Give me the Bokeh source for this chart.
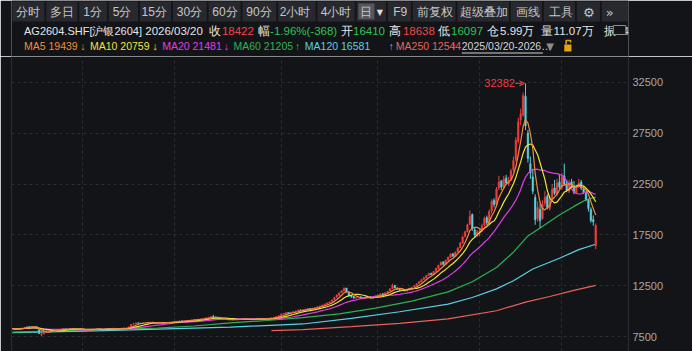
from bokeh.plotting import figure
from bokeh.layouts import column
from bokeh.models import Range1d, FixedTicker, ColumnDataSource, LinearAxis, Grid, Arrow, VeeHead
from bokeh.core.properties import value
from bokeh.embed import file_html
from bokeh.resources import INLINE

# ---------------- data (daily bars, 2025/03/20 - 2026/03/20) ----------------
opens = [
    8320, 8280, 8220, 8270, 8320, 8370, 8430, 8490,
    8470, 8430, 8480, 8200, 7700, 7800,
    7960, 8030, 8140, 8090, 8170, 8170, 8200, 8240, 8290, 8220, 8250, 8320, 8300, 8240, 8280,
    8230, 8170, 8090, 8170, 8240, 8190, 8260, 8290, 8250, 8200, 8250, 8310, 8260, 8330, 8290, 8250, 8290, 8350, 8300,
    8360, 8460, 8720, 8770, 8860, 8830, 8790, 8870, 8910, 8870, 8930, 8870, 8820, 8880, 8910, 8840, 8890, 8900, 8950,
    8950, 8990, 9000, 9060, 9010, 9070, 9080, 9130, 9140, 9190, 9190, 9240, 9260, 9310, 9350, 9420, 9480, 9430, 9390, 9310, 9260, 9210, 9190,
    9170, 9140, 9190, 9220, 9180, 9230, 9260, 9240, 9210, 9170, 9220, 9250, 9270, 9220, 9260, 9290, 9300, 9330, 9360, 9410, 9490,
    9580, 9720, 9770, 9870, 9790, 9910, 9930, 10040, 10130, 10060, 10170, 10190, 10280, 10200, 10320, 10370, 10460, 10510, 10620, 10690, 10820,
    10950, 11120, 11380, 11560, 11830, 11980, 12280, 11880, 11530, 11460, 11290, 11370, 11420, 11230, 11320, 11360, 11420, 11290,
    11380, 11480, 11620, 11720, 11630, 11810, 11980, 12230, 12520, 12280, 12140, 12030, 12120, 11990, 12160, 12230, 12370, 12490, 12720, 12880, 13120,
    13280, 13520, 13730, 13580, 13920, 14180, 14530, 14850, 14580, 15020, 15280, 15650, 15380, 15820, 16250, 16680, 17350, 17820, 18550, 19500, 18000, 17400,
    17700, 17950, 18450, 19200, 18650, 19850, 20900, 20450, 22100, 22800, 22150, 23100, 22500, 22950, 23900, 24900, 26700, 28800, 29300, 31100,
    27500, 24500, 23200, 21200, 19100, 20000, 19100, 20600, 21300, 20100, 21100, 22100, 21500, 22700, 22100, 23300, 22400, 21800, 22700, 22300,
    21600, 22400, 22700, 22000, 21600, 20900, 20000, 19000, 16410,
]
highs = [
    8340, 8300, 8280, 8330, 8380, 8440, 8510, 8520,
    8490, 8540, 8500, 8220, 7850, 7980,
    8090, 8160, 8170, 8190, 8220, 8240, 8280, 8320, 8310, 8290, 8340, 8350, 8320, 8300, 8300,
    8250, 8200, 8200, 8260, 8260, 8270, 8310, 8310, 8270, 8280, 8330, 8330, 8340, 8350, 8310, 8320, 8370, 8380, 8380,
    8480, 8740, 8830, 8890, 8890, 8850, 8890, 8940, 8950, 8960, 8950, 8900, 8900, 8940, 8930, 8900, 8940, 8970, 9000,
    9010, 9040, 9080, 9080, 9080, 9110, 9140, 9180, 9210, 9230, 9260, 9290, 9340, 9390, 9440, 9520, 9650, 9460, 9420, 9340, 9280, 9240, 9210,
    9200, 9200, 9240, 9240, 9240, 9280, 9280, 9260, 9220, 9230, 9270, 9290, 9290, 9270, 9300, 9330, 9350, 9380, 9430, 9510, 9600,
    9760, 9830, 9900, 9900, 9940, 9990, 10060, 10160, 10170, 10190, 10240, 10310, 10300, 10340, 10420, 10490, 10560, 10650, 10750, 10860, 10960,
    11150, 11420, 11650, 11880, 12080, 12350, 12300, 11950, 11600, 11500, 11420, 11480, 11450, 11350, 11420, 11450, 11460, 11400,
    11550, 11650, 11760, 11780, 11850, 12000, 12250, 12700, 12600, 12350, 12200, 12180, 12180, 12200, 12300, 12400, 12560, 12760, 12960, 13180, 13380,
    13560, 13780, 13780, 13950, 14280, 14580, 14900, 14900, 15080, 15380, 15700, 15700, 15880, 16300, 16800, 17400, 17900, 18600, 19900, 19600, 18200, 18000,
    18100, 18600, 19300, 19400, 20000, 21000, 21100, 22200, 23300, 22900, 23300, 23400, 23200, 24000, 25200, 27100, 29000, 29900, 31500, 32382,
    27800, 25200, 24000, 21500, 20800, 20600, 20900, 21800, 21500, 21400, 22500, 22900, 23000, 23400, 23600, 24500, 22900, 22900, 23000, 22800,
    22400, 23000, 22900, 22300, 21800, 21000, 20200, 19400, 18638,
]
lows = [
    8260, 8210, 8200, 8250, 8300, 8350, 8410, 8430,
    8400, 8410, 8300, 7780, 7550, 7720,
    7930, 8000, 8070, 8060, 8130, 8150, 8180, 8220, 8200, 8200, 8230, 8270, 8230, 8220, 8200,
    8120, 8070, 8070, 8150, 8180, 8180, 8240, 8220, 8190, 8190, 8240, 8250, 8250, 8270, 8240, 8240, 8280, 8290, 8290,
    8340, 8440, 8690, 8750, 8790, 8770, 8770, 8850, 8860, 8850, 8840, 8800, 8800, 8860, 8830, 8820, 8860, 8880, 8920,
    8930, 8970, 8990, 8990, 9000, 9050, 9070, 9110, 9130, 9160, 9170, 9220, 9250, 9290, 9330, 9400, 9400, 9350, 9280, 9230, 9180, 9150, 9130,
    9120, 9120, 9170, 9170, 9170, 9210, 9210, 9190, 9160, 9160, 9200, 9230, 9210, 9200, 9240, 9270, 9280, 9310, 9340, 9390, 9460,
    9560, 9700, 9760, 9760, 9770, 9880, 9910, 10010, 10050, 10030, 10140, 10170, 10190, 10170, 10290, 10340, 10430, 10480, 10590, 10660, 10780,
    10900, 11080, 11330, 11520, 11780, 11950, 11850, 11450, 11300, 11220, 11250, 11330, 11200, 11200, 11280, 11330, 11260, 11250,
    11350, 11450, 11580, 11600, 11600, 11780, 11950, 12180, 12250, 12100, 11980, 11980, 11950, 11950, 12100, 12200, 12340, 12460, 12680, 12850, 13080,
    13250, 13480, 13550, 13550, 13880, 14150, 14480, 14500, 14550, 14950, 15250, 15350, 15330, 15780, 16200, 16650, 17250, 17750, 18450, 17900, 17200, 17300,
    17400, 17800, 18300, 18500, 18500, 19600, 20200, 20300, 21900, 21900, 22000, 22400, 22300, 22800, 23700, 24700, 26500, 28300, 29100, 27800,
    24600, 23000, 21500, 18500, 18800, 18200, 19000, 20300, 20000, 19900, 20800, 21400, 21300, 22000, 21900, 22300, 21700, 21600, 22200, 21500,
    21500, 22100, 21900, 21500, 20800, 19800, 18700, 18400, 16097,
]
closes = [
    8290, 8230, 8260, 8310, 8360, 8420, 8480, 8460,
    8440, 8500, 8320, 7820, 7760, 7920,
    8050, 8120, 8100, 8160, 8180, 8210, 8250, 8280, 8230, 8260, 8310, 8290, 8250, 8270, 8220,
    8150, 8100, 8180, 8230, 8200, 8250, 8280, 8240, 8210, 8260, 8300, 8270, 8320, 8290, 8260, 8300, 8340, 8310, 8350,
    8450, 8700, 8780, 8850, 8820, 8800, 8860, 8900, 8880, 8920, 8860, 8830, 8870, 8900, 8850, 8880, 8910, 8940, 8960,
    8980, 9010, 9050, 9020, 9060, 9090, 9120, 9150, 9180, 9200, 9230, 9260, 9300, 9350, 9400, 9450, 9420, 9380, 9300, 9250, 9200, 9180, 9160,
    9150, 9180, 9210, 9190, 9220, 9250, 9230, 9200, 9180, 9210, 9240, 9260, 9230, 9250, 9280, 9300, 9320, 9350, 9400, 9480, 9560,
    9700, 9780, 9850, 9800, 9900, 9950, 10020, 10100, 10080, 10150, 10200, 10260, 10220, 10300, 10380, 10450, 10520, 10600, 10700, 10800, 10900,
    11100, 11350, 11600, 11800, 12000, 12250, 11900, 11500, 11450, 11300, 11350, 11400, 11250, 11300, 11350, 11400, 11300, 11350,
    11500, 11600, 11700, 11650, 11800, 11950, 12200, 12500, 12300, 12150, 12050, 12100, 12000, 12150, 12250, 12350, 12500, 12700, 12900, 13100, 13300,
    13500, 13700, 13600, 13900, 14200, 14500, 14800, 14600, 15000, 15300, 15600, 15400, 15800, 16200, 16700, 17300, 17800, 18500, 19300, 18100, 17500, 17800,
    17900, 18400, 19100, 18700, 19800, 20800, 20500, 22000, 22700, 22200, 23000, 22600, 22900, 23800, 24800, 26800, 28600, 29400, 31200, 28200,
    25000, 23600, 21800, 19000, 20200, 18900, 20500, 21200, 20200, 21000, 22000, 21600, 22600, 22200, 23200, 22500, 21900, 22600, 22400, 21700,
    22300, 22600, 22100, 21700, 21000, 20100, 18900, 18790, 18422,
]

# longer moving averages (bar index, value)
ma60_idx = [0, 15, 30, 45, 60, 75, 90, 105, 120, 135, 150, 165, 180, 190, 200, 207, 213, 220, 226, 232, 237, 241]
ma60_val = [7950, 8050, 8150, 8260, 8350, 8550, 8850, 9090, 9380, 9750, 10300, 11000, 11900, 12900, 14300, 15800, 17400, 18500, 19450, 20300, 20950, 21205]
ma120_idx = [0, 30, 60, 90, 120, 140, 160, 180, 190, 200, 207, 215, 226, 234, 241]
ma120_val = [7900, 8050, 8250, 8450, 8750, 9300, 9950, 10700, 11350, 12200, 13000, 14150, 15200, 16050, 16581]
ma250_idx = [107, 120, 140, 160, 180, 200, 212, 222, 232, 241]
ma250_val = [8100, 8200, 8480, 8800, 9250, 10050, 10900, 11450, 12050, 12544]

month_ticks = [29, 67, 111, 151, 193, 227]          # bar index of 2025-05, 07, 09, 11, 2026-01, 03
price_ticks = [7500, 12500, 17500, 22500, 27500, 32500]

tab_labels = ["分时", "多日", "1分", "5分", "15分", "30分", "60分", "90分", "2小时", "4小时", "日",
              "F9", "前复权", "超级叠加", "画线", "工具", "\u2699", "\u00bb"]

# ---------------- style ----------------
BG = "#131418"
GRID = "#2b2d33"
UP = "#ee3d3d"
DOWN = "#5ccfd9"
C_MA5 = "#f08a3c"
C_MA10 = "#f0e23e"
C_MA20 = "#e03ce6"
C_MA60 = "#2fb152"
C_MA120 = "#5bd0e0"
C_MA250 = "#e8635e"
RED_T = "#f04646"
GREEN_T = "#2fc453"
WHITE_T = "#e4e4e4"
FONT = "Liberation Sans"

W = 692
HEAD_H = 56
CH_H = 351 - HEAD_H

n = min(len(opens), len(highs), len(lows), len(closes))
idx = list(range(n))


def moving_avg(vals, k):
    out = []
    for i in range(len(vals)):
        w = vals[max(0, i - k + 1):i + 1]
        out.append(sum(w) / len(w))
    return out


# ---------------- header ----------------
h = figure(width=W, height=HEAD_H, x_range=Range1d(0, W), y_range=Range1d(HEAD_H, 0),
           toolbar_location=None, output_backend="svg", x_axis_location=None, y_axis_location=None,
           min_border=0, outline_line_color=None, background_fill_color=BG, border_fill_color=BG)
h.grid.visible = False

tab_edges = [0, 38, 75, 108, 143, 180, 220, 258, 298, 342, 386, 421, 449, 499, 559, 596, 633, 661, 693]
tab_centers = [18.5, 56.5, 91, 124, 160, 199.5, 239.5, 277.5, 318, 364, 398, 436, 474.5, 530, 579.5, 616, 647.5, 671]
h.quad(left=[e + 1 for e in tab_edges[:-1]], right=[e - 1 for e in tab_edges[1:]],
       top=[1] * (len(tab_edges) - 1), bottom=[21] * (len(tab_edges) - 1),
       fill_color="#28292e", line_color=None)
h.quad(left=[389], right=[407], top=[3], bottom=[19], fill_color="#55575d", line_color=None)
tab_src = ColumnDataSource(dict(x=tab_centers[:16], y=[11.5] * 16, t=tab_labels[:16]))
h.text(x="x", y="y", text="t", source=tab_src, text_align="center", text_baseline="middle",
       text_color="#c6c6c6", text_font=value(FONT), text_font_size=value("12px"))
h.text(x=tab_centers[16:], y=[11.5, 11.5], text=tab_labels[16:], text_align="center", text_baseline="middle",
       text_color="#c6c6c6", text_font=value("DejaVu Sans"), text_font_size=value("13px"))
h.text(x=[413], y=[11.5], text=["\u25bc"], text_align="center", text_baseline="middle",
       text_color="#e0e0e0", text_font=value("DejaVu Sans"), text_font_size=value("8px"))

h.text(x=[14], y=[30.5], text=["AG2604.SHF[沪银2604]"], text_align="left", text_baseline="middle",
       text_color=WHITE_T, text_font=value(FONT), text_font_size=value("11px"))
info = [
    (150, "2026/03/20", WHITE_T), (222, "收", WHITE_T),
    (236, "18422", RED_T), (276, "幅", WHITE_T), (290, "-1.96%(-368)", GREEN_T), (369, "开", WHITE_T),
    (383, "16410", GREEN_T), (423, "高", WHITE_T), (439, "18638", RED_T), (478, "低", WHITE_T),
    (493, "16097", GREEN_T), (533, "仓", WHITE_T), (548, "5.99万", WHITE_T), (594, "量", WHITE_T),
    (608, "11.07万", WHITE_T), (664, "振", WHITE_T), (678, "14.", WHITE_T),
]
info_src = ColumnDataSource(dict(x=[a[0] for a in info], y=[30.5] * len(info),
                                 t=[a[1] for a in info], c=[a[2] for a in info]))
h.text(x="x", y="y", text="t", text_color="c", source=info_src, text_align="left", text_baseline="middle",
       text_font=value(FONT), text_font_size=value("11.5px"))
h.quad(left=[675], right=[689], top=[25], bottom=[34], fill_color=BG, line_color="#8c8c8c", line_width=1)

legend = [
    (14, "MA5 19439", C_MA5), (77, "\u2193", C_MA5),
    (88, "MA10 20759", C_MA10), (158, "\u2193", C_MA10),
    (169, "MA20 21481", C_MA20), (238, "\u2193", C_MA20),
    (249, "MA60 21205", C_MA60), (318, "\u2191", C_MA60),
    (329, "MA120 16581", C_MA120), (423, "\u2191", C_MA120),
    (431, "MA250 12544", C_MA250), (493, "\u2191", C_MA250),
    (505, "2025/03/20-2026\u2026", "#d2d2d2"),
]
leg_src = ColumnDataSource(dict(x=[a[0] for a in legend], y=[45.5] * len(legend),
                                t=[a[1] for a in legend], c=[a[2] for a in legend]))
h.text(x="x", y="y", text="t", text_color="c", source=leg_src, text_align="left", text_baseline="middle",
       text_font=value(FONT), text_font_size=value("10.5px"))
h.segment(x0=[505], y0=[52.5], x1=[596], y1=[52.5], line_color="#d2d2d2", line_width=1)
h.text(x=[604], y=[45.5], text=["\u25bc"], text_align="center", text_baseline="middle",
       text_color="#8e8e8e", text_font=value("DejaVu Sans"), text_font_size=value("10px"))
h.quad(left=[620], right=[628], top=[44], bottom=[51], fill_color="#e5a21c", line_color=None)
h.line(x=[622, 622, 627, 627], y=[44, 40, 40, 42], line_color="#e5a21c", line_width=1.5)

# ---------------- chart ----------------
p = figure(width=W, height=CH_H, x_range=Range1d(-0.413, 254.55), y_range=Range1d(6046, 35025),
           toolbar_location=None, output_backend="svg", y_axis_location="right", x_axis_location=None,
           min_border_left=11, min_border_right=64, min_border_top=0, min_border_bottom=0,
           background_fill_color=BG, border_fill_color=BG, outline_line_color=None)
p.grid.visible = False
p.add_layout(Grid(dimension=1, ticker=FixedTicker(ticks=price_ticks), grid_line_color=GRID,
                  grid_line_dash="3 3", grid_line_width=1), "center")
p.add_layout(Grid(dimension=0, ticker=FixedTicker(ticks=month_ticks), grid_line_color=GRID,
                  grid_line_dash="3 3", grid_line_width=1), "center")

ay = p.right[0]
ay.ticker = FixedTicker(ticks=price_ticks)
ay.axis_line_color = GRID
ay.major_tick_out = 0
ay.major_tick_in = 0
ay.minor_tick_out = 0
ay.minor_tick_in = 0
ay.major_label_standoff = 4
ay.major_label_text_color = "#a8a8a8"
ay.major_label_text_font = "Liberation Sans"
ay.major_label_text_font_size = "11px"

lx = LinearAxis(ticker=FixedTicker(ticks=[]), axis_line_color=GRID, major_tick_out=0, major_tick_in=0,
                minor_tick_out=0, minor_tick_in=0, major_label_text_font_size="0px")
p.add_layout(lx, "left")

# long MAs beneath candles
p.line(ma250_idx, ma250_val, line_color=C_MA250, line_width=1.2)
p.line(ma120_idx, ma120_val, line_color=C_MA120, line_width=1.2)
p.line(ma60_idx, ma60_val, line_color=C_MA60, line_width=1.2)

up_i = [i for i in idx if closes[i] >= opens[i]]
dn_i = [i for i in idx if closes[i] < opens[i]]
for sel, col in ((up_i, UP), (dn_i, DOWN)):
    src = ColumnDataSource(dict(
        x=sel,
        hi=[highs[i] for i in sel],
        lo=[lows[i] for i in sel],
        top=[max(opens[i], closes[i]) for i in sel],
        bot=[min(opens[i], closes[i]) for i in sel],
    ))
    p.segment(x0="x", y0="lo", x1="x", y1="hi", source=src, line_color=col, line_width=1)
    p.vbar(x="x", width=0.66, top="top", bottom="bot", source=src, fill_color=col, line_color=col,
           line_width=0.5)

p.line(idx, moving_avg(closes[:n], 20), line_color=C_MA20, line_width=1.2)
p.line(idx, moving_avg(closes[:n], 10), line_color=C_MA10, line_width=1.2)
p.line(idx, moving_avg(closes[:n], 5), line_color=C_MA5, line_width=1.2)

peak_i = max(idx, key=lambda i: highs[i])
p.text(x=[peak_i - 4.4], y=[highs[peak_i]], text=[str(highs[peak_i])], text_align="right",
       text_baseline="middle", text_color=UP, text_font=value("Liberation Sans"), text_font_size=value("11px"))
p.add_layout(Arrow(end=VeeHead(size=5, line_color=UP, line_width=1, fill_color=None),
                   x_start=peak_i - 4.3, y_start=highs[peak_i], x_end=peak_i - 0.4, y_end=highs[peak_i],
                   line_color=UP, line_width=1))

layout = column(h, p, spacing=0)
open("out.html", "w").write(file_html(layout, INLINE))
